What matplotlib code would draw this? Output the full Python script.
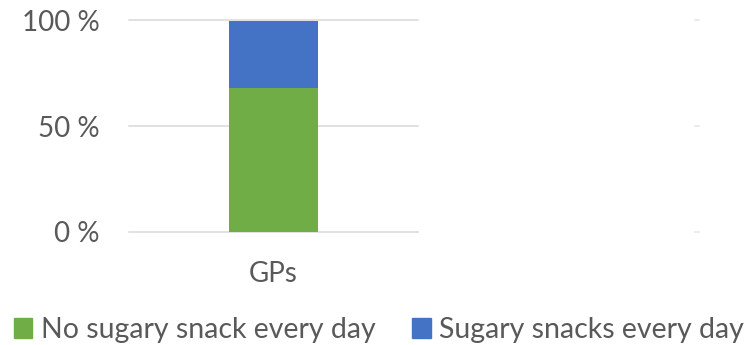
import matplotlib.pyplot as plt
from matplotlib.patches import Patch
from matplotlib.ticker import FuncFormatter

plt.rcParams['font.family'] = ['Lato', 'DejaVu Sans']

categories = ['GPs']
no_snack = [68]
sugary_snack = [32]
series_names = ['No sugary snack every day', 'Sugary snacks every day']
colors = ['#70ad47', '#4472c4']
y_ticks = [0, 50, 100]

W, H = 755, 345
fig = plt.figure(figsize=(W / 100, H / 100), dpi=100)

def px_axes(x0, x1, y_top, y_bottom):
    return fig.add_axes([x0 / W, 1 - y_bottom / H, (x1 - x0) / W, (y_bottom - y_top) / H])

def style_grid(a, color):
    a.set_ylim(0, 100)
    a.set_yticks(y_ticks)
    a.set_axisbelow(True)
    a.yaxis.grid(True, color=color, linewidth=1.1)
    for line in a.get_ygridlines():
        line.set_clip_on(False)
    for side in a.spines.values():
        side.set_visible(False)

ax = px_axes(129, 418, 20.5, 232)
x = range(len(categories))
ax.bar(x, no_snack, width=0.308, color=colors[0], zorder=3)
ax.bar(x, sugary_snack, width=0.308, bottom=no_snack, color=colors[1], zorder=3)

ax.set_xlim(-0.5, 0.5)
style_grid(ax, '#d9d9d9')
ax.yaxis.set_major_formatter(FuncFormatter(lambda v, _: f'{v:.0f} %'))
ax.set_xticks(list(x))
ax.set_xticklabels(categories)
ax.tick_params(axis='y', length=0, pad=21, labelsize=20, labelcolor='#595959')
ax.tick_params(axis='x', length=0, pad=21, labelsize=20, labelcolor='#595959')

# empty secondary plot area on the right, only its gridlines show
ax2 = px_axes(695, 699, 20.5, 232)
style_grid(ax2, '#e6e6e6')
ax2.set_xticks([])
ax2.tick_params(axis='y', length=0, labelleft=False)

handles = [Patch(color=c) for c in colors]
fig.legend(handles, series_names, loc='center', bbox_to_anchor=(379 / W, 1 - 330 / H),
           ncol=2, frameon=False, fontsize=20.5, labelcolor='#595959',
           handlelength=0.65, handleheight=0.65, handletextpad=0.3, columnspacing=1.3)

fig.savefig('out.png', dpi=100)
